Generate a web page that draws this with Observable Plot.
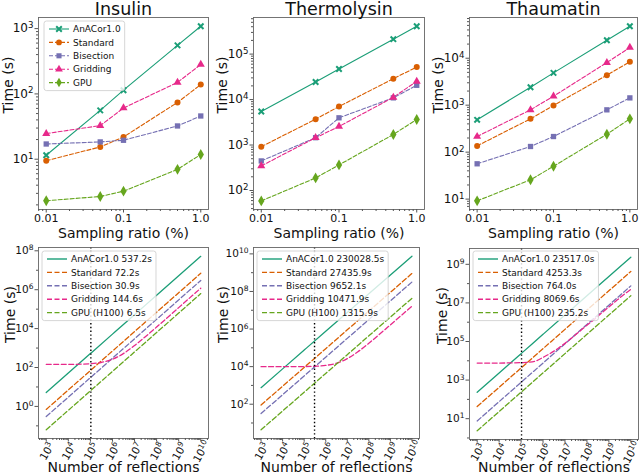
<!DOCTYPE html>
<html><head><meta charset="utf-8">
<script src="https://cdn.jsdelivr.net/npm/d3@7"></script>
<script src="https://cdn.jsdelivr.net/npm/@observablehq/plot@0.6"></script>
<style>
body{margin:0;background:#fff;}
#root{position:relative;width:640px;height:476px;overflow:hidden;font-family:"DejaVu Sans",sans-serif;}
#root svg{overflow:visible;}
</style></head><body><div id="root"></div>
<script>
// ---------- Top row: time vs sampling ratio ----------
const ratios = [0.01, 0.05, 0.1, 0.5, 1.0];
const methodNames = ["AnACor1.0", "Standard", "Bisection", "Gridding", "GPU"];

const insAnACor   = [11.5, 56, 114, 553, 1086];
const insStandard = [9.5, 15.4, 21.9, 74, 139];
const insBisection= [17.1, 18.4, 19.5, 32.3, 45.9];
const insGridding = [24.7, 32.7, 60.8, 150, 282];
const insGPU      = [2.31, 2.69, 3.24, 7.0, 11.8];

const thmAnACor   = [5460, 24400, 47000, 213000, 410000];
const thmStandard = [920, 3700, 7030, 28800, 51800];
const thmBisection= [447, 1450, 3970, 10900, 20600];
const thmGridding = [347, 1450, 2560, 11200, 25200];
const thmGPU      = [59, 189, 365, 1710, 3650];

const thaAnACor   = [488, 2415, 4870, 24200, 48000];
const thaStandard = [136, 512, 984, 4350, 8360];
const thaBisection= [56.5, 132, 215, 796, 1430];
const thaGridding = [215, 796, 1550, 8090, 16900];
const thaGPU      = [9.2, 25.8, 50, 241, 512];

const topXTicks = [0.01, 0.1, 1.0];
const topXTickLabels = ["0.01", "0.1", "1.0"];
const insYTicks = [10, 100, 1000];
const insYTickLabels = ["10¹", "10²", "10³"];
const thmYTicks = [100, 1000, 10000, 100000];
const thmYTickLabels = ["10²", "10³", "10⁴", "10⁵"];
const thaYTicks = [10, 100, 1000, 10000];
const thaYTickLabels = ["10¹", "10²", "10³", "10⁴"];

// ---------- Bottom row: extrapolated time vs number of reflections ----------
const reflections = [1e3, 1e4, 1e5, 1e6, 1e7, 1e8, 1e9, 1e10];

const insExtAnACor   = [5.2, 52, 520, 5.2e3, 5.2e4, 5.2e5, 5.2e6, 5.2e7];
const insExtStandard = [0.70, 7.0, 70, 700, 7.0e3, 7.0e4, 7.0e5, 7.0e6];
const insExtBisection= [0.30, 3.0, 30, 300, 3.0e3, 3.0e4, 3.0e5, 3.0e6];
const insExtGPU      = [0.063, 0.63, 6.3, 63, 630, 6.3e3, 6.3e4, 6.3e5];
const insGridN       = [1e3, 1e4, 1e5, 3e5, 1e6, 3e6, 1e7, 3e7, 1e8, 1e9, 1e10];
const insExtGridding = [145, 145, 157, 181, 265, 505, 1345, 3745, 1.2e4, 1.2e5, 1.2e6];

const thmExtAnACor   = [759, 7590, 7.59e4, 7.59e5, 7.59e6, 7.59e7, 7.59e8, 7.59e9];
const thmExtStandard = [90.5, 905, 9.05e3, 9.05e4, 9.05e5, 9.05e6, 9.05e7, 9.05e8];
const thmExtBisection= [31.9, 319, 3.19e3, 3.19e4, 3.19e5, 3.19e6, 3.19e7, 3.19e8];
const thmExtGPU      = [4.34, 43.4, 434, 4.34e3, 4.34e4, 4.34e5, 4.34e6, 4.34e7];
const thmGridN       = [1e3, 1e4, 1e5, 3e5, 1e6, 3e6, 1e7, 3e7, 1e8, 1e9, 1e10];
const thmExtGridding = [9970, 9990, 1.01e4, 1.05e4, 1.16e4, 1.5e4, 2.66e4, 5.98e4, 1.76e5, 1.67e6, 1.66e7];

const thaExtAnACor   = [235, 2350, 2.35e4, 2.35e5, 2.35e6, 2.35e7, 2.35e8, 2.35e9];
const thaExtStandard = [42.5, 425, 4250, 4.25e4, 4.25e5, 4.25e6, 4.25e7, 4.25e8];
const thaExtBisection= [7.64, 76.4, 764, 7640, 7.64e4, 7.64e5, 7.64e6, 7.64e7];
const thaExtGPU      = [2.35, 23.5, 235, 2350, 2.35e4, 2.35e5, 2.35e6, 2.35e7];
const thaGridN       = [1e3, 1e4, 1e5, 2e5, 5e5, 1e6, 2e6, 5e6, 1e7, 2e7, 5e7, 1e8, 2e8, 5e8, 1e9, 2e9, 5e9, 1e10];
const thaExtGridding = [7600, 7650, 8070, 8300, 1.0e4, 1.5e4, 2.3e4, 4.5e4, 8.0e4, 1.5e5, 3.6e5, 7.0e5, 1.3e6, 3.2e6, 6.2e6, 1.2e7, 2.8e7, 5.0e7];

const insReflections = 1.05e5;
const thmReflections = 3.03e5;
const thaReflections = 1.05e5;

const insLegend = ["AnACor1.0 537.2s", "Standard 72.2s", "Bisection 30.9s", "Gridding 144.6s", "GPU (H100) 6.5s"];
const thmLegend = ["AnACor1.0 230028.5s", "Standard 27435.9s", "Bisection 9652.1s", "Gridding 10471.9s", "GPU (H100) 1315.9s"];
const thaLegend = ["AnACor1.0 23517.0s", "Standard 4253.3s", "Bisection 764.0s", "Gridding 8069.6s", "GPU (H100) 235.2s"];

const botXTicks = reflections;
const botXTickLabels = ["10³", "10⁴", "10⁵", "10⁶", "10⁷", "10⁸", "10⁹", "10¹⁰"];
const insBotYTicks = [1, 1e2, 1e4, 1e6, 1e8];
const insBotYTickLabels = ["10⁰", "10²", "10⁴", "10⁶", "10⁸"];
const thmBotYTicks = [1e2, 1e4, 1e6, 1e8, 1e10];
const thmBotYTickLabels = ["10²", "10⁴", "10⁶", "10⁸", "10¹⁰"];
const thaBotYTicks = [10, 1e3, 1e5, 1e7, 1e9];
const thaBotYTickLabels = ["10¹", "10³", "10⁵", "10⁷", "10⁹"];

// ---------- styling ----------
const colors = ["#1b9e77", "#d95f02", "#7570b3", "#e7298a", "#66a61e"];
const symbols = ["times", "circle", "square", "triangle", "diamond"];
const dashes = [null, "4,2", "4,2", "4,2", "4,2"];
const botDashes = [null, "5,2.5", "5,2.5", "5,2.5", "5,2.5"];

const root = document.getElementById("root");
const SUP = "⁰¹²³⁴⁵⁶⁷⁸⁹";

// turn "10³" style labels into base + raised smaller exponent (mathtext look)
function mathify(svgNode) {
  d3.select(svgNode).selectAll("text").each(function () {
    const s = this.textContent;
    const m = /^10([⁰¹²³⁴⁵⁶⁷⁸⁹]+)$/.exec(s);
    if (!m || this.querySelector("tspan")) return;
    const exp = [...m[1]].map(ch => SUP.indexOf(ch)).join("");
    const t = d3.select(this);
    t.text(null);
    t.append("tspan").text("10");
    t.append("tspan").attr("font-size", "0.72em").attr("dy", "-0.5em").text(exp);
  });
}

function minorTicks(domain, subs) {
  const out = [];
  const lo = Math.floor(Math.log10(domain[0])), hi = Math.ceil(Math.log10(domain[1]));
  for (let e = lo; e <= hi; e++) for (const s of subs) {
    const v = s * Math.pow(10, e);
    if (v >= domain[0] && v <= domain[1]) out.push(v);
  }
  return out;
}

function makePanel(c) {
  const mL = 60, mR = 10, mT = 17, mB = 38;
  const fw = c.x1 - c.x0, fh = c.y1 - c.y0;
  const xMap = new Map(c.xTicks.map((t, i) => [t, c.xTickLabels[i]]));
  const yMap = new Map(c.yTicks.map((t, i) => [t, c.yTickLabels[i]]));
  const tickColor = "#555";
  const axes = [
    Plot.axisY({ticks: c.yMinor, tickSize: 2, tickFormat: () => "", stroke: tickColor, label: null}),
    Plot.axisY({ticks: c.yTicks, tickSize: 3.5, tickPadding: 1.5, tickFormat: d => yMap.get(d), stroke: tickColor, fontSize: c.yFont, label: null}),
    Plot.axisX({ticks: c.xMinor, tickSize: 2, tickFormat: () => "", stroke: tickColor, label: null})
  ];
  if (c.rotateX) {
    axes.push(Plot.axisX({ticks: c.xTicks, tickSize: 3.5, tickFormat: () => "", stroke: tickColor, label: null}));
    axes.push(Plot.text(c.xTicks, {x: d => d, text: d => xMap.get(d), frameAnchor: "bottom", dy: 13, dx: 1, rotate: -60,
      textAnchor: "middle", lineAnchor: "middle", fontSize: c.xFont}));
  } else {
    axes.push(Plot.axisX({ticks: c.xTicks, tickSize: 3.5, tickPadding: 1.5, tickFormat: d => xMap.get(d), stroke: tickColor, fontSize: c.xFont, label: null}));
  }
  const chart = Plot.plot({
    width: mL + fw + mR, height: mT + fh + mB,
    marginLeft: mL, marginRight: mR, marginTop: mT, marginBottom: mB,
    style: {fontFamily: "DejaVu Sans", fontSize: "10px", background: "transparent", color: "#111", overflow: "visible"},
    x: {type: "log", domain: c.xDomain},
    y: {type: "log", domain: c.yDomain},
    marks: [
      ...c.marks,
      Plot.frame({stroke: "#666", strokeWidth: 0.9}),
      ...axes,
      Plot.text([c.xLabel], {text: d => d, frameAnchor: "bottom", dy: c.xLabelDy, fontSize: 14, lineAnchor: "middle"}),
      Plot.text(["Time (s)"], {text: d => d, frameAnchor: "left", dx: c.yLabelDx, rotate: -90, fontSize: 14, lineAnchor: "middle"}),
      c.title ? Plot.text([c.title], {text: d => d, frameAnchor: "top", dy: -14.5, fontSize: 17.5, lineAnchor: "top"}) : null
    ]
  });
  mathify(chart);
  chart.style.position = "absolute";
  chart.style.left = (c.x0 - mL) + "px";
  chart.style.top = (c.y0 - mT) + "px";
  root.append(chart);
}

function topMarks(series) {
  const marks = [];
  series.forEach((vals, k) => {
    const rows = ratios.map((r, i) => ({r, t: vals[i]}));
    marks.push(Plot.line(rows, {x: "r", y: "t", stroke: colors[k], strokeWidth: 1.1, strokeDasharray: dashes[k]}));
  });
  series.forEach((vals, k) => {
    const rows = ratios.map((r, i) => ({r, t: vals[i]}));
    if (symbols[k] === "times")
      marks.push(Plot.dot(rows, {x: "r", y: "t", symbol: "times", stroke: colors[k], strokeWidth: 2, r: 2.6}));
    else
      marks.push(Plot.dot(rows, {x: "r", y: "t", symbol: symbols[k], fill: colors[k], r: symbols[k] === "diamond" ? 3.3 : 3}));
  });
  return marks;
}

function botMarks(lines, gridN, gridT, n0) {
  const marks = [];
  [0, 1, 2, 3, 4].forEach(k => {
    let rows;
    if (k === 3) rows = gridN.map((n, i) => ({n, t: gridT[i]}));
    else {
      const vals = lines[k < 3 ? k : 3];
      rows = reflections.map((n, i) => ({n, t: vals[i]}));
    }
    marks.push(Plot.line(rows, {x: "n", y: "t", stroke: colors[k], strokeWidth: 1.3, strokeDasharray: botDashes[k], curve: "monotone-x"}));
  });
  marks.push(Plot.ruleX([n0], {stroke: "#000", strokeWidth: 1.4, strokeDasharray: "1.4,2.4"}));
  return marks;
}

const topXDomain = [Math.pow(10, -2.1), Math.pow(10, 0.1)];
const topXMinor = minorTicks(topXDomain, [2,3,4,5,6,7,8,9]);
const botXDomain = [Math.pow(10, 2.65), Math.pow(10, 10.35)];
const botXMinor = minorTicks(botXDomain, [2,3,4,5,6,7,8,9]);

function oddDecades(domain, ticks) {
  return minorTicks(domain, [1]).filter(v => !ticks.some(t => Math.abs(Math.log10(t) - Math.log10(v)) < 1e-6));
}

const insYDomain = [Math.pow(10, 0.23), Math.pow(10, 3.17)];
const thmYDomain = [Math.pow(10, 1.582), Math.pow(10, 5.805)];
const thaYDomain = [Math.pow(10, 0.779), Math.pow(10, 4.867)];

makePanel({x0: 38, x1: 208, y0: 17, y1: 209, xDomain: topXDomain, yDomain: insYDomain,
  xTicks: topXTicks, xTickLabels: topXTickLabels, xMinor: topXMinor,
  yTicks: insYTicks, yTickLabels: insYTickLabels, yMinor: minorTicks(insYDomain, [2,3,4,5,6,7,8,9]),
  xFont: 11, yFont: 12, title: "Insulin", xLabel: "Sampling ratio (%)", xLabelDy: 24, yLabelDx: -30,
  marks: topMarks([insAnACor, insStandard, insBisection, insGridding, insGPU])});
makePanel({x0: 253, x1: 424, y0: 17, y1: 209, xDomain: topXDomain, yDomain: thmYDomain,
  xTicks: topXTicks, xTickLabels: topXTickLabels, xMinor: topXMinor,
  yTicks: thmYTicks, yTickLabels: thmYTickLabels, yMinor: minorTicks(thmYDomain, [2,3,4,5,6,7,8,9]),
  xFont: 11, yFont: 12, title: "Thermolysin", xLabel: "Sampling ratio (%)", xLabelDy: 24, yLabelDx: -31,
  marks: topMarks([thmAnACor, thmStandard, thmBisection, thmGridding, thmGPU])});
makePanel({x0: 469, x1: 637, y0: 17, y1: 209, xDomain: topXDomain, yDomain: thaYDomain,
  xTicks: topXTicks, xTickLabels: topXTickLabels, xMinor: topXMinor,
  yTicks: thaYTicks, yTickLabels: thaYTickLabels, yMinor: minorTicks(thaYDomain, [2,3,4,5,6,7,8,9]),
  xFont: 11, yFont: 12, title: "Thaumatin", xLabel: "Sampling ratio (%)", xLabelDy: 24, yLabelDx: -31,
  marks: topMarks([thaAnACor, thaStandard, thaBisection, thaGridding, thaGPU])});

const insBotYDomain = [Math.pow(10, -1.65), Math.pow(10, 8.17)];
const thmBotYDomain = [Math.pow(10, 0.175), Math.pow(10, 10.34)];
const thaBotYDomain = [Math.pow(10, -0.079), Math.pow(10, 9.82)];

makePanel({x0: 38, x1: 208, y0: 247, y1: 438, xDomain: botXDomain, yDomain: insBotYDomain,
  xTicks: botXTicks, xTickLabels: botXTickLabels, xMinor: botXMinor, rotateX: true,
  yTicks: insBotYTicks, yTickLabels: insBotYTickLabels, yMinor: oddDecades(insBotYDomain, insBotYTicks),
  xFont: 10.5, yFont: 10.5, xLabel: "Number of reflections", xLabelDy: 29.5, yLabelDx: -28,
  marks: botMarks([insExtAnACor, insExtStandard, insExtBisection, insExtGPU], insGridN, insExtGridding, insReflections)});
makePanel({x0: 253, x1: 419, y0: 247, y1: 438, xDomain: botXDomain, yDomain: thmBotYDomain,
  xTicks: botXTicks, xTickLabels: botXTickLabels, xMinor: botXMinor, rotateX: true,
  yTicks: thmBotYTicks, yTickLabels: thmBotYTickLabels, yMinor: oddDecades(thmBotYDomain, thmBotYTicks),
  xFont: 10.5, yFont: 10.5, xLabel: "Number of reflections", xLabelDy: 29.5, yLabelDx: -30,
  marks: botMarks([thmExtAnACor, thmExtStandard, thmExtBisection, thmExtGPU], thmGridN, thmExtGridding, thmReflections)});
makePanel({x0: 469, x1: 638, y0: 248, y1: 439, xDomain: botXDomain, yDomain: thaBotYDomain,
  xTicks: botXTicks, xTickLabels: botXTickLabels, xMinor: botXMinor, rotateX: true,
  yTicks: thaBotYTicks, yTickLabels: thaBotYTickLabels, yMinor: oddDecades(thaBotYDomain, thaBotYTicks),
  xFont: 10.5, yFont: 10.5, xLabel: "Number of reflections", xLabelDy: 28.5, yLabelDx: -27,
  marks: botMarks([thaExtAnACor, thaExtStandard, thaExtBisection, thaExtGPU], thaGridN, thaExtGridding, thaReflections)});

// ---------- legends (overlay) ----------
const ov = d3.select(root).append("svg").attr("width", 640).attr("height", 476)
  .style("position", "absolute").style("left", "0px").style("top", "0px").style("pointer-events", "none");

function legend(x, y, labels, withMarkers, lineDash) {
  const g = ov.append("g");
  const box = g.append("rect").attr("x", x).attr("y", y).attr("rx", 2.5)
    .attr("fill", "#fff").attr("fill-opacity", 0.8).attr("stroke", "#ccc").attr("stroke-width", 0.8);
  let maxW = 0;
  labels.forEach((lab, k) => {
    const cy = y + 8 + k * 13.4;
    g.append("line").attr("x1", x + 5).attr("x2", x + 25).attr("y1", cy).attr("y2", cy)
      .attr("stroke", colors[k]).attr("stroke-width", withMarkers ? 1.1 : 1.4)
      .attr("stroke-dasharray", lineDash[k]);
    if (withMarkers) {
      const sym = {times: d3.symbolTimes, circle: d3.symbolCircle, square: d3.symbolSquare, triangle: d3.symbolTriangle, diamond: d3.symbolDiamond}[symbols[k]];
      const p = g.append("path").attr("d", d3.symbol(sym, symbols[k] === "times" ? 22 : 26)())
        .attr("transform", `translate(${x + 15},${cy})`);
      if (symbols[k] === "times") p.attr("fill", "none").attr("stroke", colors[k]).attr("stroke-width", 2);
      else p.attr("fill", colors[k]);
    }
    const t = g.append("text").attr("x", x + 29).attr("y", cy).attr("dy", "0.35em")
      .attr("font-family", "DejaVu Sans").attr("font-size", 9).attr("fill", "#111").text(lab);
    maxW = Math.max(maxW, t.node().getComputedTextLength());
  });
  box.attr("width", 29 + maxW + 4).attr("height", 8 + 4 * 13.4 + 8);
}
legend(44, 21, methodNames, true, dashes);
legend(42, 251, insLegend, false, botDashes);
legend(257, 251, thmLegend, false, botDashes);
legend(473, 251, thaLegend, false, botDashes);
</script></body></html>
